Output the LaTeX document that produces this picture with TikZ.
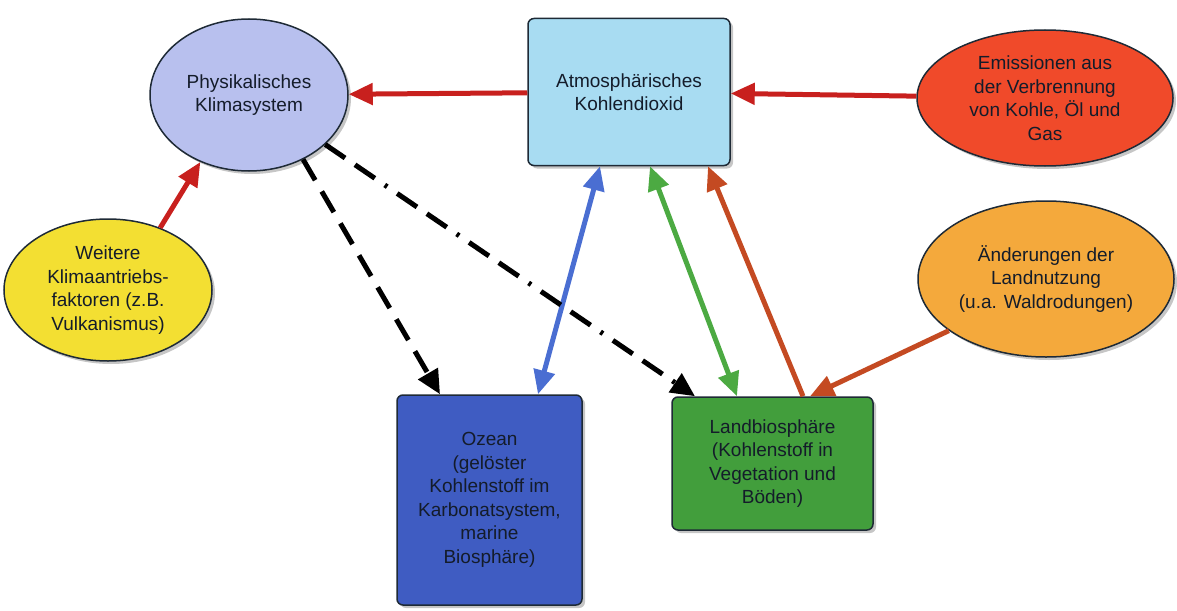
\documentclass[tikz,border=0pt]{standalone}
\usepackage{fontspec}
\setmainfont{Liberation Sans}
\usetikzlibrary{arrows.meta,shapes.geometric,shadows,calc}
\definecolor{txt}{HTML}{141C2A}
\definecolor{edge}{HTML}{1E2A36}
\definecolor{cphys}{HTML}{B8C0EE}
\definecolor{catmos}{HTML}{A8DCF2}
\definecolor{cemis}{HTML}{F04A2A}
\definecolor{cyel}{HTML}{F3DF32}
\definecolor{corng}{HTML}{F4A93C}
\definecolor{cocean}{HTML}{3F5CC2}
\definecolor{cland}{HTML}{429E3C}
\definecolor{ared}{HTML}{C8201E}
\definecolor{ablue}{HTML}{4A6ED2}
\definecolor{agreen}{HTML}{4CAA42}
\definecolor{abrown}{HTML}{C44A22}
\begin{document}
\begin{tikzpicture}[x=1pt,y=-1pt,
  every node/.style={font=\fontsize{19}{23.5}\selectfont, text=txt, align=center},
  shad/.style={drop shadow={opacity=0.45,shadow xshift=3pt,shadow yshift=-3pt}},
  ell/.style={ellipse, draw=edge, line width=1.5pt, inner sep=0pt, shad},
  boxn/.style={rectangle, rounded corners=6pt, draw=edge, line width=1.5pt, inner sep=0pt, shad},
  arr/.style={line width=5pt, -{Triangle[length=24pt,width=21pt]}},
  darr/.style={line width=5pt, {Triangle[length=24pt,width=21pt]}-{Triangle[length=24pt,width=21pt]}},
  blk/.style={line width=5pt, black, -{Triangle[length=24pt,width=22pt]}}
]
\useasboundingbox (0,0) rectangle (1177,610);
\node[ell, fill=cphys, minimum width=198pt, minimum height=152pt] (phys) at (249,95) {Physikalisches\\Klimasystem};
\node[boxn, fill=catmos, minimum width=202pt, minimum height=147pt] (atmos) at (629,92) {Atmosphärisches\\Kohlendioxid};
\node[ell, fill=cemis, minimum width=256pt, minimum height=136pt] (emis) at (1045,98) {Emissionen aus\\der Verbrennung\\von Kohle, Öl und\\Gas};
\node[ell, fill=cyel, minimum width=208pt, minimum height=142pt] (yel) at (108,290) {Weitere\\Klimaantriebs-\\faktoren (z.B.\\Vulkanismus)};
\node[ell, fill=corng, minimum width=256pt, minimum height=156pt] (orng) at (1046,279) {Änderungen der\\Landnutzung\\(u.a. Waldrodungen)};
\node[boxn, fill=cocean, minimum width=185pt, minimum height=210pt] (ocean) at (489.5,500) {Ozean\\(gelöster\\Kohlenstoff im\\Karbonatsystem,\\marine\\Biosphäre)};
\node[boxn, fill=cland, minimum width=201pt, minimum height=133pt] (land) at (772.5,463.5) {Landbiosphäre\\(Kohlenstoff in\\Vegetation und\\Böden)};

\draw[arr, ared] (atmos) -- (phys);
\draw[arr, ared] (emis) -- (atmos);
\draw[arr, ared] (yel.50) -- (phys.234);
\draw[darr, ablue] ([xshift=-29pt]atmos.south) -- ([xshift=48.5pt]ocean.north);
\draw[darr, agreen] ([xshift=21pt]atmos.south) -- ([xshift=-35.5pt]land.north);
\draw[arr, abrown] ([xshift=30.5pt]land.north) -- ([xshift=79pt]atmos.south);
\draw[arr, abrown] (orng.208) -- ([xshift=37.5pt]land.north);
\draw[blk, dash pattern=on 24pt off 13pt] (phys.310) -- ([xshift=-49.5pt]ocean.north);
\draw[blk, dash pattern=on 24pt off 12pt on 24pt off 12pt on 3pt off 12pt] (phys.327) -- ([xshift=-77.5pt]land.north);
\end{tikzpicture}
\end{document}
